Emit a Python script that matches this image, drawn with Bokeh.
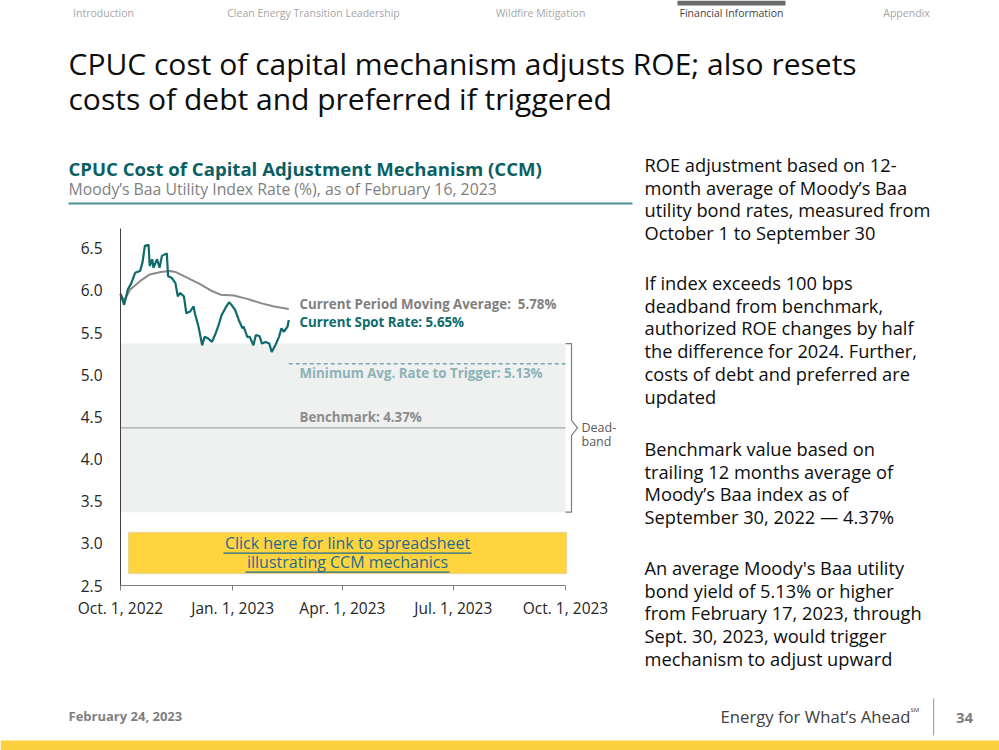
import pandas as pd
from bokeh.plotting import figure
from bokeh.models import (Range1d, Label, BoxAnnotation,
                          FixedTicker, NumeralTickFormatter, DatetimeAxis, LinearAxis)
from bokeh.embed import file_html
from bokeh.resources import INLINE

FONT = "Open Sans"

# ---------------- data ----------------
spot_dates = ["2022-10-01", "2022-10-04", "2022-10-07", "2022-10-10", "2022-10-13",
              "2022-10-17", "2022-10-19", "2022-10-21", "2022-10-24", "2022-10-25",
              "2022-10-27", "2022-10-28", "2022-10-31", "2022-11-02", "2022-11-04",
              "2022-11-08", "2022-11-09", "2022-11-12", "2022-11-15", "2022-11-17",
              "2022-11-19", "2022-11-22", "2022-11-24", "2022-11-27", "2022-11-30",
              "2022-12-01", "2022-12-04", "2022-12-07", "2022-12-09", "2022-12-12",
              "2022-12-15", "2022-12-18", "2022-12-20", "2022-12-23", "2022-12-26",
              "2022-12-29", "2022-12-31", "2023-01-03", "2023-01-06", "2023-01-09",
              "2023-01-10", "2023-01-13", "2023-01-15", "2023-01-18", "2023-01-20",
              "2023-01-23", "2023-01-25", "2023-01-28", "2023-01-31", "2023-02-02",
              "2023-02-05", "2023-02-08", "2023-02-10", "2023-02-12", "2023-02-15",
              "2023-02-16"]
spot_rate = [5.96, 5.83, 6.01, 6.09, 6.21,
             6.23, 6.33, 6.53, 6.54, 6.29,
             6.37, 6.27, 6.37, 6.27, 6.41,
             6.44, 6.17, 6.15, 6.09, 5.93,
             5.97, 5.93, 5.73, 5.75, 5.81,
             5.73, 5.57, 5.35, 5.45, 5.43,
             5.39, 5.49, 5.57, 5.71, 5.79,
             5.86, 5.83, 5.77, 5.65, 5.55,
             5.57, 5.45, 5.45, 5.35, 5.47,
             5.46, 5.37, 5.39, 5.37, 5.27,
             5.35, 5.45, 5.55, 5.51, 5.57,
             5.65]

ma_dates = ["2022-10-01", "2022-10-04", "2022-10-09", "2022-10-17", "2022-10-25",
            "2022-11-03", "2022-11-11", "2022-11-15", "2022-11-25", "2022-12-06",
            "2022-12-14", "2022-12-22", "2023-01-02", "2023-01-13", "2023-01-24",
            "2023-02-04", "2023-02-16"]
ma_rate = [5.96, 5.88, 6.01, 6.11, 6.19,
           6.22, 6.23, 6.22, 6.15, 6.07,
           6.00, 5.95, 5.94, 5.90, 5.85,
           5.81, 5.78]

benchmark = 4.37
deadband = 1.00
trigger = 5.13

tick_dates = ["2022-10-01", "2023-01-01", "2023-04-01", "2023-07-01", "2023-10-01"]
tick_labels = ["Oct. 1, 2022", "Jan. 1, 2023", "Apr. 1, 2023", "Jul. 1, 2023", "Oct. 1, 2023"]
y_ticks = [2.5, 3.0, 3.5, 4.0, 4.5, 5.0, 5.5, 6.0, 6.5]
y_lo, y_hi = 2.5, 6.735

nav_items = ["Introduction", "Clean Energy Transition Leadership", "Wildfire Mitigation",
             "Financial Information", "Appendix"]
title_lines = ["CPUC cost of capital mechanism adjusts ROE; also resets",
               "costs of debt and preferred if triggered"]
paragraphs = [
    ["ROE adjustment based on 12-", "month average of Moody\u2019s Baa",
     "utility bond rates, measured from", "October 1 to September 30"],
    ["If index exceeds 100 bps", "deadband from benchmark,",
     "authorized ROE changes by half", "the difference for 2024. Further,",
     "costs of debt and preferred are", "updated"],
    ["Benchmark value based on", "trailing 12 months average of",
     "Moody\u2019s Baa index as of", "September 30, 2022 \u2014 4.37%"],
    ["An average Moody's Baa utility", "bond yield of 5.13% or higher",
     "from February 17, 2023, through", "Sept. 30, 2023, would trigger",
     "mechanism to adjust upward"],
]


def ms(d):
    return pd.Timestamp(d).value / 1e6


spot_x = [ms(d) for d in spot_dates]
ma_x = [ms(d) for d in ma_dates]
tick_x = [ms(d) for d in tick_dates]
t0, t1 = tick_x[0], tick_x[-1]

# ---------------- page figure (default ranges = page pixels) ----------------
W, H = 999, 750
p = figure(width=W, height=H, x_range=Range1d(0, W), y_range=Range1d(H, 0),
           min_border=0, x_axis_location=None, y_axis_location=None,
           output_backend="svg", toolbar_location=None,
           background_fill_color="white", border_fill_color="white",
           outline_line_color=None)
p.grid.visible = False

# chart plot area placement on the page (pixels)
PX0, PX1 = 120, 565      # x pixels of first / last date tick
PY0, PY1 = 585, 228      # y pixels of y_lo / y_hi
kx = (t1 - t0) / (PX1 - PX0)
ky = (y_hi - y_lo) / (PY0 - PY1)
p.extra_x_ranges = {"date": Range1d(t0 - PX0 * kx, t0 + (W - PX0) * kx)}
p.extra_y_ranges = {"rate": Range1d(y_lo - (H - PY0) * ky, y_lo + PY0 * ky)}
R = dict(x_range_name="date", y_range_name="rate")

# deadband shading + benchmark line
p.add_layout(BoxAnnotation(left=t0, right=t1, bottom=benchmark - deadband,
                           top=benchmark + deadband, fill_color="#eff0f0",
                           fill_alpha=1, line_color=None, level="underlay", **R))
p.segment(x0=[t0], x1=[t1], y0=[benchmark], y1=[benchmark],
          line_color="#a6a6a6", line_width=1.3, **R)

# series
p.line(ma_x, ma_rate, line_color="#8a8a8a", line_width=2, **R)
p.line(spot_x, spot_rate, line_color="#0e6a6b", line_width=2.2, **R)
p.line([spot_x[-1], t1], [trigger, trigger], line_color="#7aa9ac",
       line_width=1.5, line_dash="4 3", **R)

# axes
xax = DatetimeAxis(fixed_location=y_lo, bounds=(t0, t1),
                   ticker=FixedTicker(ticks=tick_x, minor_ticks=[]), **R)
xax.major_label_overrides = {t: l for t, l in zip(tick_x, tick_labels)}
xax.axis_line_color = "#7f7f7f"
xax.major_tick_line_color = "#7f7f7f"
xax.major_tick_out = 5
xax.major_tick_in = 0
xax.minor_tick_line_color = None
xax.major_label_standoff = 6
xax.major_label_text_font = FONT
xax.major_label_text_font_size = "15.5px"
xax.major_label_text_color = "#262626"
p.add_layout(xax, "below")

yax = LinearAxis(fixed_location=t0, bounds=(y_lo, y_hi),
                 ticker=FixedTicker(ticks=y_ticks, minor_ticks=[]),
                 formatter=NumeralTickFormatter(format="0.0"), **R)
yax.axis_line_color = "#404040"
yax.major_tick_line_color = None
yax.minor_tick_line_color = None
yax.major_label_standoff = 12
yax.major_label_text_font = FONT
yax.major_label_text_font_size = "15.5px"
yax.major_label_text_color = "#262626"
p.add_layout(yax, "left")


# ---------------- helpers (page pixel coords, y = text baseline) ----------------
def lab(text, x, y, size, color="#0d0d0d", style="normal", align="left"):
    p.add_layout(Label(x=x, y=y - 0.4 * size, text=text, text_font=FONT,
                       text_font_size=f"{size}px", text_color=color,
                       text_font_style=style, text_align=align,
                       text_baseline="alphabetic"))


def box(x0, y0, x1, y1, color, line=None, lw=1):
    p.add_layout(BoxAnnotation(left=x0, right=x1, top=y0, bottom=y1,
                               fill_color=color, fill_alpha=1,
                               line_color=line, line_width=lw))


# deadband bracket (x in page pixels, y in rate units)
bx = [565, 571, 571, 577, 571, 571, 565]
by = [benchmark + deadband, benchmark + deadband, benchmark + 0.09, benchmark,
      benchmark - 0.09, benchmark - deadband, benchmark - deadband]
p.line(bx, by, y_range_name="rate", line_color="#7f7f7f", line_width=1.2)
lab("Dead-", 581, 432, 12.5, "#595959")
lab("band", 581, 446, 12.5, "#595959")

# chart annotations
lab(f"Current Period Moving Average:\u00a0 {ma_rate[-1]:.2f}%", 299, 309, 13.3, "#7f7f7f", "bold")
lab(f"Current Spot Rate: {spot_rate[-1]:.2f}%", 299, 327, 13.3, "#0e6a6b", "bold")
lab(f"Minimum Avg. Rate to Trigger: {trigger:.2f}%", 299, 378, 13.3, "#8db3b6", "bold")
lab(f"Benchmark: {benchmark:.2f}%", 299, 422, 13.3, "#8c8c8c", "bold")

# link box
box(128, 532, 566, 573, "#ffd43f", "#bdb38a", 1.5)
lab("Click here for link to spreadsheet", 347, 549, 16, "#1d6b8f", align="center")
lab("illustrating CCM mechanics", 347, 568, 16, "#1d6b8f", align="center")
box(223, 552, 471, 553.3, "#1d6b8f")
box(245, 571, 449, 572.3, "#1d6b8f")

# chart title
lab("CPUC Cost of Capital Adjustment Mechanism (CCM)", 68, 175, 18.6, "#0b5f62", "bold")
lab("Moody\u2019s Baa Utility Index Rate (%), as of February 16, 2023", 68, 195, 15.8, "#7f7f7f")
box(68, 202, 632, 204, "#4b9394")

# nav
nav_x = [103, 313, 540, 731, 906]
for t, x in zip(nav_items, nav_x):
    lab(t, x, 17, 10.5, "#3f3f3f" if t == "Financial Information" else "#a6a6a6",
        align="center")
box(677, 0, 785, 5, "#6b6b6b")

# slide title
lab(title_lines[0], 68, 75, 30, "#0d0d0d")
lab(title_lines[1], 68, 109.5, 30, "#0d0d0d")

# right text
para_start = [171, 289, 455, 574]
for lines, y0 in zip(paragraphs, para_start):
    for i, t in enumerate(lines):
        lab(t, 644, y0 + i * 22.8, 18.25, "#0d0d0d")

# footer
lab("February 24, 2023", 68, 721, 13, "#7f7f7f", "bold")
lab("Energy for What\u2019s Ahead", 720, 723, 16.7, "#404040")
lab("SM", 910, 711.5, 6, "#404040")
box(932.5, 698, 933.7, 735, "#a6a6a6")
lab("34", 964, 723, 15, "#7f7f7f", "bold", align="center")
box(0, 740, 999, 750, "#fdd13d")

open("out.html", "w").write(file_html(p, INLINE))
